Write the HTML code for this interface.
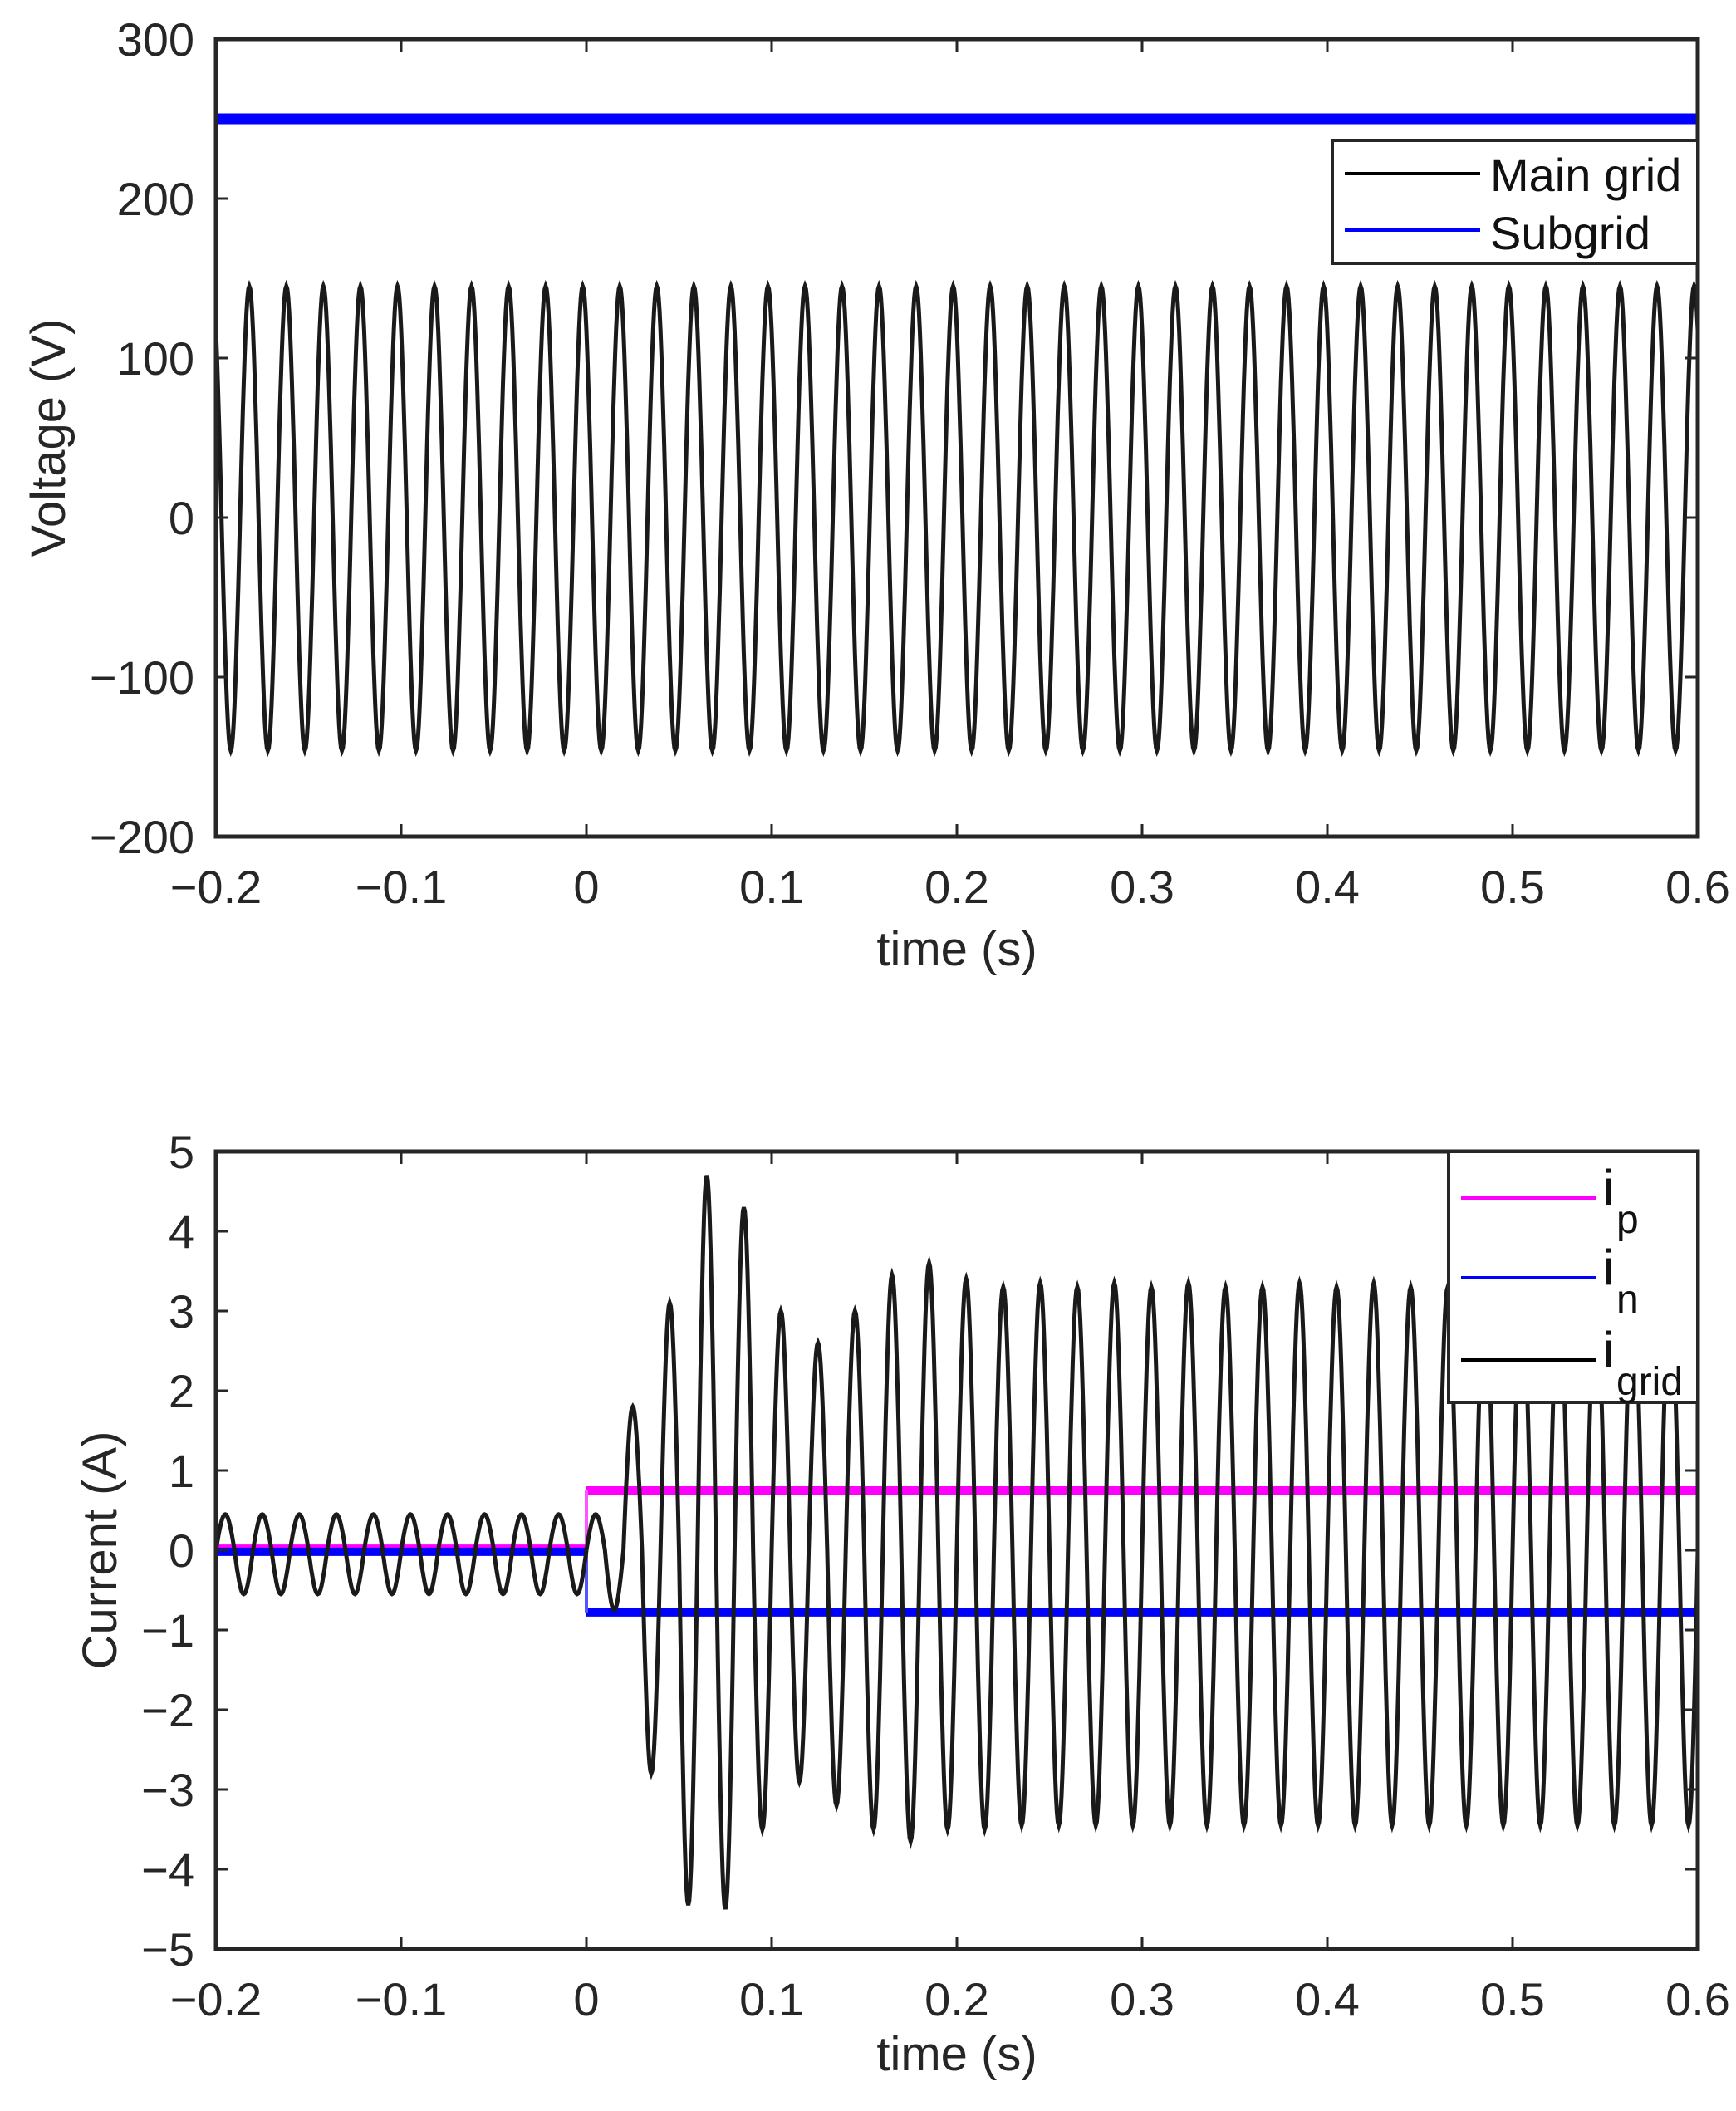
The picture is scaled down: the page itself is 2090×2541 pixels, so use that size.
<!DOCTYPE html>
<html><head><meta charset="utf-8">
<style>
html,body{margin:0;padding:0;background:#fff;}
svg{display:block;font-family:"Liberation Sans",sans-serif;}
</style></head>
<body>
<svg id="chart" width="2090" height="2541" viewBox="0 0 2090 2541" xmlns="http://www.w3.org/2000/svg">
<g id="topChart"></g>
<g id="botChart"></g>
</svg>
<script>
// ---------- data ----------
const xTicks = [-0.2,-0.1,0,0.1,0.2,0.3,0.4,0.5,0.6];
const xTickLabels = ["\u22120.2","\u22120.1","0","0.1","0.2","0.3","0.4","0.5","0.6"];
const vTicks = [300,200,100,0,-100,-200];
const vTickLabels = ["300","200","100","0","\u2212100","\u2212200"];
const cTicks = [5,4,3,2,1,0,-1,-2,-3,-4,-5];
const cTickLabels = ["5","4","3","2","1","0","\u22121","\u22122","\u22123","\u22124","\u22125"];
const period = 0.02;
const vFirstPeak = -0.182;
const vPos = [145,145,145,145,145,145,145,145,145,145,145,145,145,145,145,145,145,145,145,145,145,145,145,145,145,145,145,145,145,145,145,145,145,145,145,145,145,145,145,145,145];
const vNeg = [-146,-146,-146,-146,-146,-146,-146,-146,-146,-146,-146,-146,-146,-146,-146,-146,-146,-146,-146,-146,-146,-146,-146,-146,-146,-146,-146,-146,-146,-146,-146,-146,-146,-146,-146,-146,-146,-146,-146,-146,-146];
const subgridLevel = 250;
const iFirstPeak = -0.195;
const iPos = [0.45,0.45,0.45,0.45,0.45,0.45,0.45,0.45,0.45,0.45,0.45,1.8,3.1,4.7,4.3,3.0,2.6,3.0,3.45,3.6,3.4,3.3,3.35,3.3,3.35,3.3,3.35,3.3,3.3,3.35,3.3,3.35,3.3,3.3,3.35,3.3,3.35,3.3,3.3,3.3,3.3];
const iNeg = [-0.55,-0.55,-0.55,-0.55,-0.55,-0.55,-0.55,-0.55,-0.55,-0.55,-0.75,-2.8,-4.45,-4.5,-3.5,-2.9,-3.2,-3.5,-3.65,-3.5,-3.5,-3.45,-3.45,-3.45,-3.45,-3.45,-3.45,-3.45,-3.45,-3.45,-3.45,-3.45,-3.45,-3.45,-3.45,-3.45,-3.45,-3.45,-3.45,-3.45,-3.45];
const stepTime = 0;
const ipLevels = [0.02, 0.75];
const inLevels = [-0.02, -0.78];

// ---------- layout ----------
const L=260,R=2044;
const T1=47,B1=1007, T2=1386,B2=2346;
const NS="http://www.w3.org/2000/svg";
function X(t){return L+(t+0.2)/0.8*(R-L);}
function YV(v){return T1+(300-v)/500*(B1-T1);}
function YC(v){return T2+(5-v)/10*(B2-T2);}
function mk(parent,tag,attrs){const e=document.createElementNS(NS,tag);for(const k in attrs)e.setAttribute(k,attrs[k]);parent.appendChild(e);return e;}

function sineWave(first,pos,neg,Y){
  let d="";
  for(let i=0;i<=1600;i++){
    const t=-0.2+0.8*i/1600;
    let k=Math.round((t-first)/period);
    const ph=2*Math.PI*(t-first-k*period)/period;
    const c=Math.cos(ph);
    const kk=Math.max(0,Math.min(pos.length-1,k));
    let v;
    if(c>=0) v=c*pos[kk];
    else{ const kn = (t-first-k*period)<0 ? kk-1 : kk; v=-c*neg[Math.max(0,Math.min(neg.length-1,kn))]; }
    d+=(i?"L":"M")+X(t).toFixed(1)+","+Y(v).toFixed(1);
  }
  return d;
}

function axes(g,T,B,yt,ytl,Y,ylabel,xlabY){
  for(let i=0;i<xTicks.length;i++){
    const x=X(xTicks[i]);
    const tb=mk(g,"line",{x1:x,y1:B,x2:x,y2:B-15,stroke:"#262626","stroke-width":3});
    
    
    mk(g,"line",{x1:x,y1:T,x2:x,y2:T+15,stroke:"#262626","stroke-width":3});
    const tx=mk(g,"text",{x:x,y:B+80,"font-size":56,"text-anchor":"middle",fill:"#262626"});
    tx.textContent=xTickLabels[i];
    
    
  }
  for(let i=0;i<yt.length;i++){
    const y=Y(yt[i]);
    mk(g,"line",{x1:L,y1:y,x2:L+15,y2:y,stroke:"#262626","stroke-width":3});
    mk(g,"line",{x1:R,y1:y,x2:R-15,y2:y,stroke:"#262626","stroke-width":3});
    const ty=mk(g,"text",{x:234,y:y+20,"font-size":56,"text-anchor":"end",fill:"#262626"});
    ty.textContent=ytl[i];
    
    
  }
  const bx=mk(g,"rect",{x:L,y:T,width:R-L,height:B-T,fill:"none",stroke:"#262626","stroke-width":5});
  
  
  const xl=mk(g,"text",{x:(L+R)/2,y:xlabY,"font-size":58,"text-anchor":"middle",fill:"#262626"});
  xl.textContent="time (s)";
  
  
  const yl=mk(g,"text",{x:0,y:0,"font-size":58,"text-anchor":"middle",fill:"#262626",transform:"translate("+ylabel[1]+","+(T+B)/2+") rotate(-90)"});
  yl.textContent=ylabel[0];
  
  
}

// ---------- top chart ----------
const topG=document.getElementById("topChart");
const sub=mk(topG,"line",{x1:X(-0.2),y1:YV(subgridLevel),x2:X(0.6),y2:YV(subgridLevel),stroke:"#0000ff","stroke-width":13});


const mg=mk(topG,"path",{d:sineWave(vFirstPeak,vPos,vNeg,YV),fill:"none",stroke:"#1a1a1a","stroke-width":5});


axes(topG,T1,B1,vTicks,vTickLabels,YV,["Voltage (V)",78],1162);
const lg1=mk(topG,"g",{});


mk(lg1,"rect",{x:1604,y:169,width:440,height:148,fill:"#fff",stroke:"#262626","stroke-width":4});
mk(lg1,"line",{x1:1619,y1:209,x2:1782,y2:209,stroke:"#000","stroke-width":4});
mk(lg1,"line",{x1:1619,y1:277,x2:1782,y2:277,stroke:"#0000ff","stroke-width":4});
const t1=mk(lg1,"text",{x:1794,y:230,"font-size":56,fill:"#111"});t1.textContent="Main grid";


const t2=mk(lg1,"text",{x:1794,y:300,"font-size":56,fill:"#111"});t2.textContent="Subgrid";



// ---------- bottom chart ----------
const botG=document.getElementById("botChart");
function flatPath(levels){
  return "M"+X(-0.2)+","+YC(levels[0])+"L"+X(stepTime)+","+YC(levels[0])+"M"+X(stepTime)+","+YC(levels[1])+"L"+X(0.6)+","+YC(levels[1]);
}
function jumpPath(levels){
  return "M"+X(stepTime)+","+YC(levels[0])+"L"+X(stepTime)+","+YC(levels[1]);
}
const ip=mk(botG,"path",{d:flatPath(ipLevels),fill:"none",stroke:"#ff00ff","stroke-width":10});


mk(botG,"path",{d:jumpPath(ipLevels),fill:"none",stroke:"#ff55ff","stroke-width":4});
const inn=mk(botG,"path",{d:flatPath(inLevels),fill:"none",stroke:"#0000ff","stroke-width":10});


mk(botG,"path",{d:jumpPath(inLevels),fill:"none",stroke:"#5555ff","stroke-width":4});
const ig=mk(botG,"path",{d:sineWave(iFirstPeak,iPos,iNeg,YC),fill:"none",stroke:"#1a1a1a","stroke-width":5});


axes(botG,T2,B2,cTicks,cTickLabels,YC,["Current (A)",140],2492);
const lg2=mk(botG,"g",{});


mk(lg2,"rect",{x:1744,y:1386,width:300,height:302,fill:"#fff",stroke:"#262626","stroke-width":4});
const ents=[["p","#ff00ff",1442],["n","#0000ff",1538],["grid","#000",1637]];
for(const e of ents){
  mk(lg2,"line",{x1:1759,y1:e[2],x2:1922,y2:e[2],stroke:e[1],"stroke-width":4});
  const tx=mk(lg2,"text",{x:1930,y:e[2]+8,"font-size":60,fill:"#111"});
  tx.textContent="i";
  
  
  const s=mk(lg2,"text",{x:1946,y:e[2]+42,"font-size":48,fill:"#111"});
  s.textContent=e[0];
  
  
}
</script>
</body></html>
